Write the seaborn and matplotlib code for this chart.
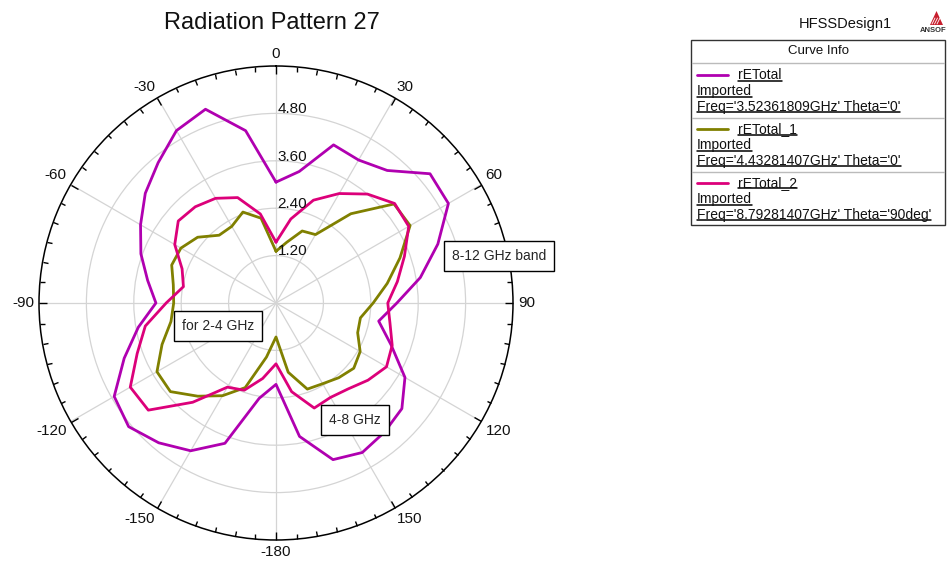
import numpy as np
import pandas as pd
import matplotlib
matplotlib.use('Agg')
import matplotlib.pyplot as plt
from matplotlib.lines import Line2D
from matplotlib.patches import Rectangle, Polygon
import seaborn as sns

# phi in degrees (clockwise from top), rE values
phi_deg = list(range(0, 360, 10))
retotal = [3.06, 3.38, 4.26, 4.18, 4.38, 5.09, 5.04, 4.36, 3.71, 3.06,
           2.64, 3.10, 3.77, 4.16, 4.27, 4.37, 4.22, 3.43, 2.06, 2.45,
           3.78, 4.32, 4.62, 4.87, 4.73, 4.09, 3.54, 3.04, 3.30, 3.64,
           3.96, 4.32, 4.64, 5.04, 5.22, 4.43]
retotal_1 = [1.31, 1.56, 1.94, 2.00, 2.95, 3.90, 3.92, 3.34, 2.86, 2.46,
             2.17, 2.20, 2.46, 2.57, 2.47, 2.36, 2.32, 1.78, 0.86, 1.39,
             2.28, 2.71, 3.08, 3.49, 3.48, 3.07, 2.70, 2.59, 2.64, 2.81,
             2.78, 2.59, 2.24, 2.24, 2.45, 2.18]
retotal_2 = [1.54, 2.16, 2.77, 3.20, 3.60, 3.92, 3.88, 3.46, 3.12, 2.83,
             2.93, 3.13, 3.23, 3.04, 2.84, 2.76, 2.83, 2.28, 1.54, 1.94,
             2.35, 2.46, 3.28, 4.22, 4.26, 3.74, 3.36, 2.78, 2.38, 2.53,
             2.96, 3.23, 3.18, 3.06, 2.84, 2.29]

curve_names = ['rETotal', 'rETotal_1', 'rETotal_2']
curve_freqs = ["Freq='3.52361809GHz' Theta='0'",
               "Freq='4.43281407GHz' Theta='0'",
               "Freq='8.79281407GHz' Theta='90deg'"]
curve_colors = ['#B000B0', '#808000', '#DC007A']

angle_ticks = list(range(0, 360, 30))
angle_labels = ['0', '30', '60', '90', '120', '150',
                '-180', '-150', '-120', '-90', '-60', '-30']
r_ticks = [1.2, 2.4, 3.6, 4.8]
r_labels = ['1.20', '2.40', '3.60', '4.80']
r_max = 6.0

notes = ['8-12 GHz band', 'for 2-4 GHz', '4-8 GHz']

sns.set_theme(style='white')
plt.rcParams['font.family'] = ['Liberation Sans', 'DejaVu Sans']

W, H = 947, 562
fig = plt.figure(figsize=(W / 100, H / 100), dpi=100)


def px(x, y):
    return x / W, 1 - y / H


ax = fig.add_axes([39 / W, 22 / H, 474 / W, 474 / H], projection='polar')
ax.set_theta_zero_location('N')
ax.set_theta_direction(-1)

frames = []
for name, vals in zip(curve_names, [retotal, retotal_1, retotal_2]):
    df = pd.DataFrame({'phi': phi_deg + [phi_deg[0] + 360],
                       'r': vals + [vals[0]]})
    df['theta'] = np.deg2rad(df['phi'])
    df['curve'] = name
    frames.append(df)
data = pd.concat(frames, ignore_index=True)

sns.lineplot(data=data, x='theta', y='r', hue='curve',
             palette=dict(zip(curve_names, curve_colors)),
             sort=False, estimator=None, lw=2, ax=ax, legend=False)

ax.set_ylim(0, r_max)
ax.set_xlabel('')
ax.set_ylabel('')
ax.set_rgrids(r_ticks, labels=[''] * len(r_ticks))
ax.set_thetagrids(angle_ticks, labels=[''] * len(angle_ticks))
ax.set_xticks(np.deg2rad(np.arange(0, 360, 5)), minor=True)
ax.grid(True, which='major', color='#d4d4d4', lw=0.9)
# outer ring ticks point inwards
ax.tick_params(axis='x', which='major', direction='in', length=6,
               width=1, color='black', bottom=False, top=True)
ax.tick_params(axis='x', which='minor', direction='in', length=3.5,
               width=1, color='black', bottom=False, top=True)
ax.spines['polar'].set_color('black')
ax.spines['polar'].set_linewidth(1.1)

for a, lab in zip(angle_ticks, angle_labels):
    s, c = np.sin(np.deg2rad(a)), np.cos(np.deg2rad(a))
    ha = 'left' if s > 0.1 else ('right' if s < -0.1 else 'center')
    va = 'bottom' if c > 0.1 else ('top' if c < -0.1 else 'center')
    ax.annotate(lab, xy=(np.deg2rad(a), r_max), xytext=(3.5 * s, 3.5 * c),
                textcoords='offset points', ha=ha, va=va,
                fontsize=11, color='#111111', annotation_clip=False)

for r, lab in zip(r_ticks, r_labels):
    ax.annotate(lab, xy=(0, r), xytext=(1, 3), textcoords='offset points',
                ha='left', va='center', fontsize=11, color='#111111')

note_pos = [(499, 256), (218, 326), (355, 420)]
for s, (x, y) in zip(notes, note_pos):
    fig.text(*px(x, y), s, ha='center', va='center', fontsize=10,
             bbox=dict(boxstyle='square,pad=0.55', fc='white', ec='black', lw=1))

fig.text(*px(272, 23), 'Radiation Pattern 27', ha='center', va='center',
         fontsize=17, color='#111111')
fig.text(*px(845, 24), 'HFSSDesign1', ha='center', va='center',
         fontsize=10.5, color='#111111')

# small logo
fig.add_artist(Polygon([px(930, 25), px(943, 25), px(936.5, 11)], closed=True,
                       transform=fig.transFigure, fc='#c81e2d', ec='none'))
for k in range(3):
    fig.add_artist(Line2D([(932 + 2.5 * k) / W, (935 + 2.5 * k) / W],
                          [1 - 24 / H, 1 - 18 / H],
                          transform=fig.transFigure, color='white', lw=0.6))
fig.text(*px(946, 31), 'ANSOF', ha='right', va='center', fontsize=5.5,
         fontweight='bold', color='#333333')

# curve info box
fig.add_artist(Rectangle(px(691, 225), 254 / W, 185 / H, transform=fig.transFigure,
                         fc='white', ec='#333333', lw=1))
fig.text(*px(819, 51), 'Curve Info', ha='center', va='center', fontsize=9.5,
         color='#111111')
for y in [63, 117.5, 171.5]:
    fig.add_artist(Line2D([692 / W, 944 / W], [1 - y / H] * 2,
                          transform=fig.transFigure, color='#bbbbbb', lw=1))

renderer = fig.canvas.get_renderer()


def underlined(x, y, s):
    t = fig.text(*px(x, y), s, ha='left', va='center', fontsize=10,
                 color='#111111')
    bb = t.get_window_extent(renderer=renderer)
    yl = bb.y0 + 1.5
    fig.add_artist(Line2D([bb.x0 / W, bb.x1 / W], [yl / H, yl / H],
                          transform=fig.transFigure, color='black', lw=1.1))


for i, (name, freq, col) in enumerate(zip(curve_names, curve_freqs, curve_colors)):
    y0 = 75 + 54 * i
    fig.add_artist(Line2D([697 / W, 728 / W], [1 - y0 / H] * 2,
                          transform=fig.transFigure, color=col, lw=2))
    underlined(738, y0, name)
    underlined(697, y0 + 16, 'Imported')
    underlined(697, y0 + 31.5, freq)

fig.savefig('out.png', dpi=100)
